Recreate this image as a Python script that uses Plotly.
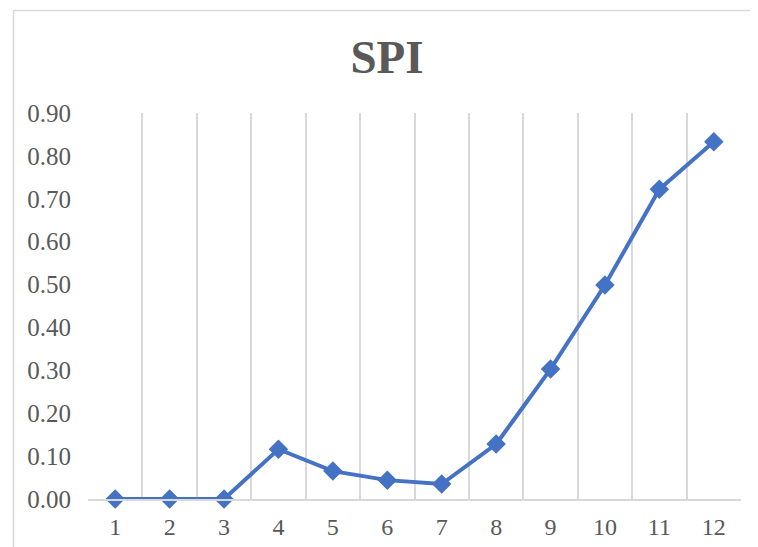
import plotly.graph_objects as go

categories = [1, 2, 3, 4, 5, 6, 7, 8, 9, 10, 11, 12]
spi_values = [0.0, 0.0, 0.0, 0.116, 0.065, 0.044, 0.035, 0.128, 0.303, 0.499, 0.722, 0.833]
y_ticks = [0.0, 0.1, 0.2, 0.3, 0.4, 0.5, 0.6, 0.7, 0.8, 0.9]
title_text = "SPI"

blue = "#4472C4"
grey_text = "#595959"
grid = "#d9d9d9"
font_family = "Liberation Serif, Times New Roman, serif"

W, H = 750, 539
L, R, T, B = 80, 17, 105, 48
pw, ph = W - L - R, H - T - B

fig = go.Figure()
fig.add_trace(go.Scatter(
    x=categories, y=spi_values, mode="lines+markers",
    line=dict(color=blue, width=4),
    marker=dict(symbol="diamond", size=15, color=blue),
    showlegend=False, cliponaxis=False,
))

boundaries = [c - 0.5 for c in categories] + [categories[-1] + 0.5]

fig.update_layout(
    width=W, height=H,
    margin=dict(l=L, r=R, t=T, b=B, autoexpand=False),
    paper_bgcolor="white", plot_bgcolor="white",
    title=dict(text="<b>" + title_text + "</b>", x=(387 - 8) / W, xanchor="center",
               y=1 - 49 / H, yanchor="middle",
               font=dict(family=font_family, size=47, color=grey_text)),
    font=dict(family=font_family, color=grey_text),
    xaxis=dict(
        range=[0.5, 12.5], tickmode="array", tickvals=categories,
        ticktext=[str(c) for c in categories], automargin=False,
        showgrid=False, zeroline=False, showline=True, linecolor=grid, linewidth=1.5,
        ticks="", tickfont=dict(size=24, color=grey_text), ticklabelstandoff=5,
        minor=dict(tickmode="array", tickvals=boundaries, showgrid=True,
                   gridcolor=grid, gridwidth=1.5, ticks=""),
    ),
    yaxis=dict(
        range=[0, 0.9], tickmode="array", tickvals=y_ticks, automargin=False,
        tickformat=".2f", showgrid=False, zeroline=False, showline=False,
        ticks="", tickfont=dict(size=25, color=grey_text), ticklabelstandoff=16,
    ),
    shapes=[dict(type="rect", xref="paper", yref="paper",
                 x0=(-3 + 0.5 - L + 8) / pw, x1=1.05, y0=-0.2, y1=(ph + T - 3 + 0.5) / ph,
                 line=dict(color=grid, width=1.5), fillcolor="rgba(0,0,0,0)",
                 layer="below")],
)

fig.write_html("out.html")
